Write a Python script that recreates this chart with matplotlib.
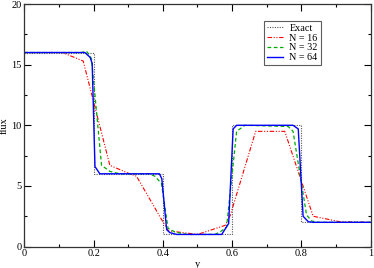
import matplotlib
matplotlib.use("Agg")
import matplotlib.pyplot as plt
from matplotlib.ticker import MultipleLocator

plt.rcParams['font.family'] = ['Liberation Serif', 'DejaVu Serif']

# Exact solution (step function)
exact_x = [0.0, 0.2, 0.2, 0.4, 0.4, 0.6, 0.6, 0.8, 0.8, 1.0]
exact_y = [16, 16, 6, 6, 1, 1, 10, 10, 2, 2]

n16_x = [0.0, 0.11, 0.17, 0.247, 0.30, 0.324, 0.40, 0.416, 0.5, 0.58, 0.595, 0.668, 0.752, 0.834, 0.911, 1.0]
n16_y = [16.0, 16.0, 15.3, 6.7, 6.05, 5.8, 2.05, 1.3, 1.0, 1.75, 2.6, 9.5, 9.5, 2.5, 2.05, 2.0]

n32_x = [0.0, 0.165, 0.18, 0.194, 0.223, 0.247, 0.276, 0.36, 0.377, 0.396, 0.415, 0.435, 0.47, 0.55, 0.565, 0.584,
         0.613, 0.637, 0.762, 0.776, 0.815, 0.83, 0.85, 1.0]
n32_y = [16.0, 16.0, 16.1, 15.5, 6.7, 6.2, 6.0, 6.0, 5.8, 5.2, 1.5, 1.2, 1.0, 1.0, 1.2, 1.6,
         9.5, 10.0, 9.9, 9.5, 2.6, 2.1, 2.0, 2.0]

n64_x = [0.0, 0.175, 0.19, 0.196, 0.204, 0.218, 0.39, 0.397, 0.411, 0.42, 0.44, 0.57, 0.59, 0.603, 0.613,
         0.776, 0.791, 0.805, 0.82, 0.835, 1.0]
n64_y = [16.0, 16.0, 15.6, 15.1, 6.6, 6.0, 6.0, 5.6, 1.4, 1.15, 1.0, 1.0, 1.9, 9.7, 10.0,
         10.0, 9.7, 2.5, 2.05, 2.0, 2.0]

labels = ["Exact", "N = 16", "N = 32", "N = 64"]
xticks = [0, 0.2, 0.4, 0.6, 0.8, 1.0]
xticklabels = ['0', '0.2', '0.4', '0.6', '0.8', '1']
yticks = [0, 5, 10, 15, 20]
yticklabels = ['0', '5', '10', '15', '20']

fig = plt.figure(figsize=(3.74, 2.68), dpi=100)
ax = fig.add_axes([0.065, 0.080, 0.926, 0.905])

ax.plot(exact_x, exact_y, color='#555555', lw=0.8, ls=(0, (1, 1.2)), label=labels[0])
ax.plot(n16_x, n16_y, color='#ff0000', lw=0.8, ls=(0, (4, 1.5, 1, 1.5, 1, 1.5)), label=labels[1])
ax.plot(n32_x, n32_y, color='#00aa00', lw=0.9, ls=(0, (3, 2)), label=labels[2])
ax.plot(n64_x, n64_y, color='#0000ff', lw=1.0, ls='-', label=labels[3])

ax.set_xlim(0, 1)
ax.set_ylim(0, 20)
ax.set_xticks(xticks)
ax.set_xticklabels(xticklabels)
ax.set_yticks(yticks)
ax.set_yticklabels(yticklabels)
ax.xaxis.set_minor_locator(MultipleLocator(0.1))
ax.yaxis.set_minor_locator(MultipleLocator(2.5))
ax.tick_params(which='both', direction='in', top=True, right=True, labelsize=7.5, width=0.8, pad=2)
ax.tick_params(which='major', length=5)
ax.tick_params(which='minor', length=2.5)
for s in ax.spines.values():
    s.set_linewidth(0.9)
    s.set_color('#333333')

ax.set_xlabel('y', fontsize=7.5, labelpad=1)
ax.set_ylabel('flux', fontsize=7.5, labelpad=2)

leg = ax.legend(loc='upper right', bbox_to_anchor=(0.856, 0.932), fontsize=7.3, frameon=True, fancybox=False,
                edgecolor='#333333', handlelength=1.6, borderpad=0.3, labelspacing=0.08, handletextpad=0.6,
                borderaxespad=0)
leg.get_frame().set_linewidth(0.8)

fig.savefig('out.png', dpi=100)
